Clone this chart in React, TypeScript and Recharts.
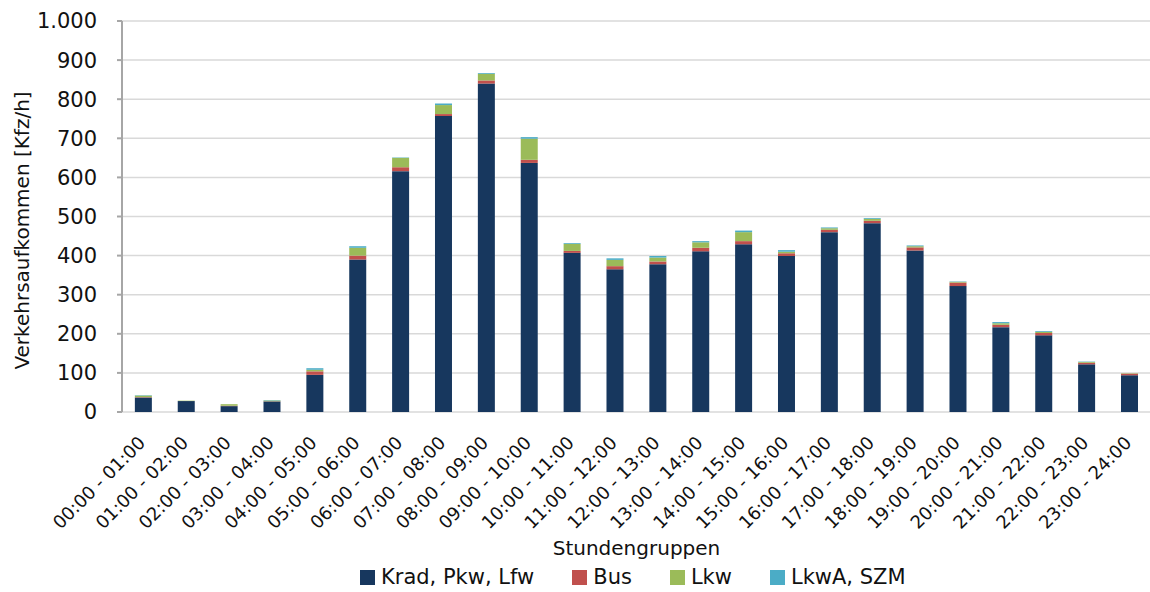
import React from 'react';
import { BarChart, Bar, XAxis, YAxis, CartesianGrid, Legend } from 'recharts';

const categories = [
  '00:00 - 01:00', '01:00 - 02:00', '02:00 - 03:00', '03:00 - 04:00',
  '04:00 - 05:00', '05:00 - 06:00', '06:00 - 07:00', '07:00 - 08:00',
  '08:00 - 09:00', '09:00 - 10:00', '10:00 - 11:00', '11:00 - 12:00',
  '12:00 - 13:00', '13:00 - 14:00', '14:00 - 15:00', '15:00 - 16:00',
  '16:00 - 17:00', '17:00 - 18:00', '18:00 - 19:00', '19:00 - 20:00',
  '20:00 - 21:00', '21:00 - 22:00', '22:00 - 23:00', '23:00 - 24:00',
];

const kradPkwLfw = [37, 28, 15, 27, 95, 390, 616, 757, 840, 637, 407, 365, 378, 411, 429, 399, 460, 483, 413, 322, 217, 196, 122, 94];
const bus = [1, 0, 1, 0.5, 9, 10, 10, 5, 8, 8, 5, 8, 7, 9, 8, 7, 6, 6, 8, 9, 6, 6, 4, 4];
const lkw = [4, 1, 4, 2, 4, 20, 24, 23, 17, 54, 18, 16, 10, 14, 23, 4, 4, 5, 3, 2, 4, 3, 2, 1];
const lkwaSzm = [1, 0, 0, 1, 4, 4, 1, 4, 2, 4, 2, 4, 4, 3, 4, 4, 2, 2, 2, 1, 3, 2, 1, 0];

const yTicks = [0, 100, 200, 300, 400, 500, 600, 700, 800, 900, 1000];

const SERIES = [
  { key: 'krad', name: 'Krad, Pkw, Lfw', color: '#17375E' },
  { key: 'bus', name: 'Bus', color: '#C0504D' },
  { key: 'lkw', name: 'Lkw', color: '#9BBB59' },
  { key: 'lkwa', name: 'LkwA, SZM', color: '#4BACC6' },
];

const FONT = '"DejaVu Sans", sans-serif';
const TEXT = '#111';
const AXIS = '#A6A6A6';
const TOP = 21;
const PLOT_H = 391;

const data = categories.map((c, i) => ({
  name: c,
  krad: kradPkwLfw[i],
  bus: bus[i],
  lkw: lkw[i],
  lkwa: lkwaSzm[i],
}));

// boundary ticks like Excel (between the categories)
const boundaryTicks = Array.from({ length: categories.length + 1 }, (_, i) => i);

const fmtDe = (v: number) => String(v).replace(/\B(?=(\d{3})+(?!\d))/g, '.');

const XTick = ({ x, y, payload }: any) => {
  const ax = x + 3;
  const ay = y + 32;
  return (
    <text x={ax} y={ay} transform={`rotate(-45, ${ax}, ${ay})`} textAnchor="end"
      fontSize={18} fontFamily={FONT} fill={TEXT}>
      {payload.value}
    </text>
  );
};

const LegendBox = () => (
  <div style={{ display: 'flex', paddingLeft: 360, alignItems: 'center', height: 30, fontFamily: FONT, fontSize: 21, color: TEXT }}>
    {SERIES.map(s => (
      <div key={s.key} style={{ display: 'flex', alignItems: 'center', marginRight: 38 }}>
        <span style={{ width: 15, height: 15, background: s.color, marginRight: 6, display: 'inline-block' }} />
        <span>{s.name}</span>
      </div>
    ))}
  </div>
);

const App: React.FC = () => {
  const cy = TOP + PLOT_H / 2 + 14;
  return (
    <div style={{ position: 'absolute', left: 0, top: 0, width: 1150, height: 592, overflow: 'hidden', background: '#fff' }}>
      <BarChart width={1152} height={592} data={data} margin={{ top: TOP, right: 1, bottom: 0, left: 0 }} barCategoryGap="30%">
        <CartesianGrid horizontal vertical={false} stroke="#D9D9D9" strokeWidth={1.5} xAxisId="cat" />
        <XAxis xAxisId="grid" type="number" domain={[0, categories.length]} ticks={boundaryTicks}
          tick={false} tickSize={6} height={0} stroke={AXIS} strokeWidth={2} allowDataOverflow />
        <XAxis xAxisId="cat" dataKey="name" interval={0} height={150} axisLine={false} tickLine={false}
          tickSize={0} tickMargin={0} tick={<XTick />}
          label={{
            content: ({ viewBox }: any) => (
              <text x={viewBox.x + viewBox.width / 2} y={viewBox.y + 143} textAnchor="middle"
                fontSize={20} fontFamily={FONT} fill={TEXT}>Stundengruppen</text>
            ),
          }} />
        <YAxis width={122} domain={[0, 1000]} ticks={yTicks} tickFormatter={fmtDe} interval={0}
          tickSize={5} tickMargin={20} stroke={AXIS} strokeWidth={2}
          tick={{ fontSize: 21, fontFamily: FONT, fill: TEXT }}
          label={{
            content: () => (
              <text x={22} y={cy} transform={`rotate(-90, 22, ${cy})`} textAnchor="middle"
                dominantBaseline="central" fontSize={20} fontFamily={FONT} fill={TEXT}>
                Verkehrsaufkommen [Kfz/h]
              </text>
            ),
          }} />
        <Legend verticalAlign="bottom" height={30} content={<LegendBox />} />
        {SERIES.map(s => (
          <Bar key={s.key} dataKey={s.key} name={s.name} stackId="a" fill={s.color}
            xAxisId="cat" isAnimationActive={false} />
        ))}
      </BarChart>
    </div>
  );
};

export default App;
